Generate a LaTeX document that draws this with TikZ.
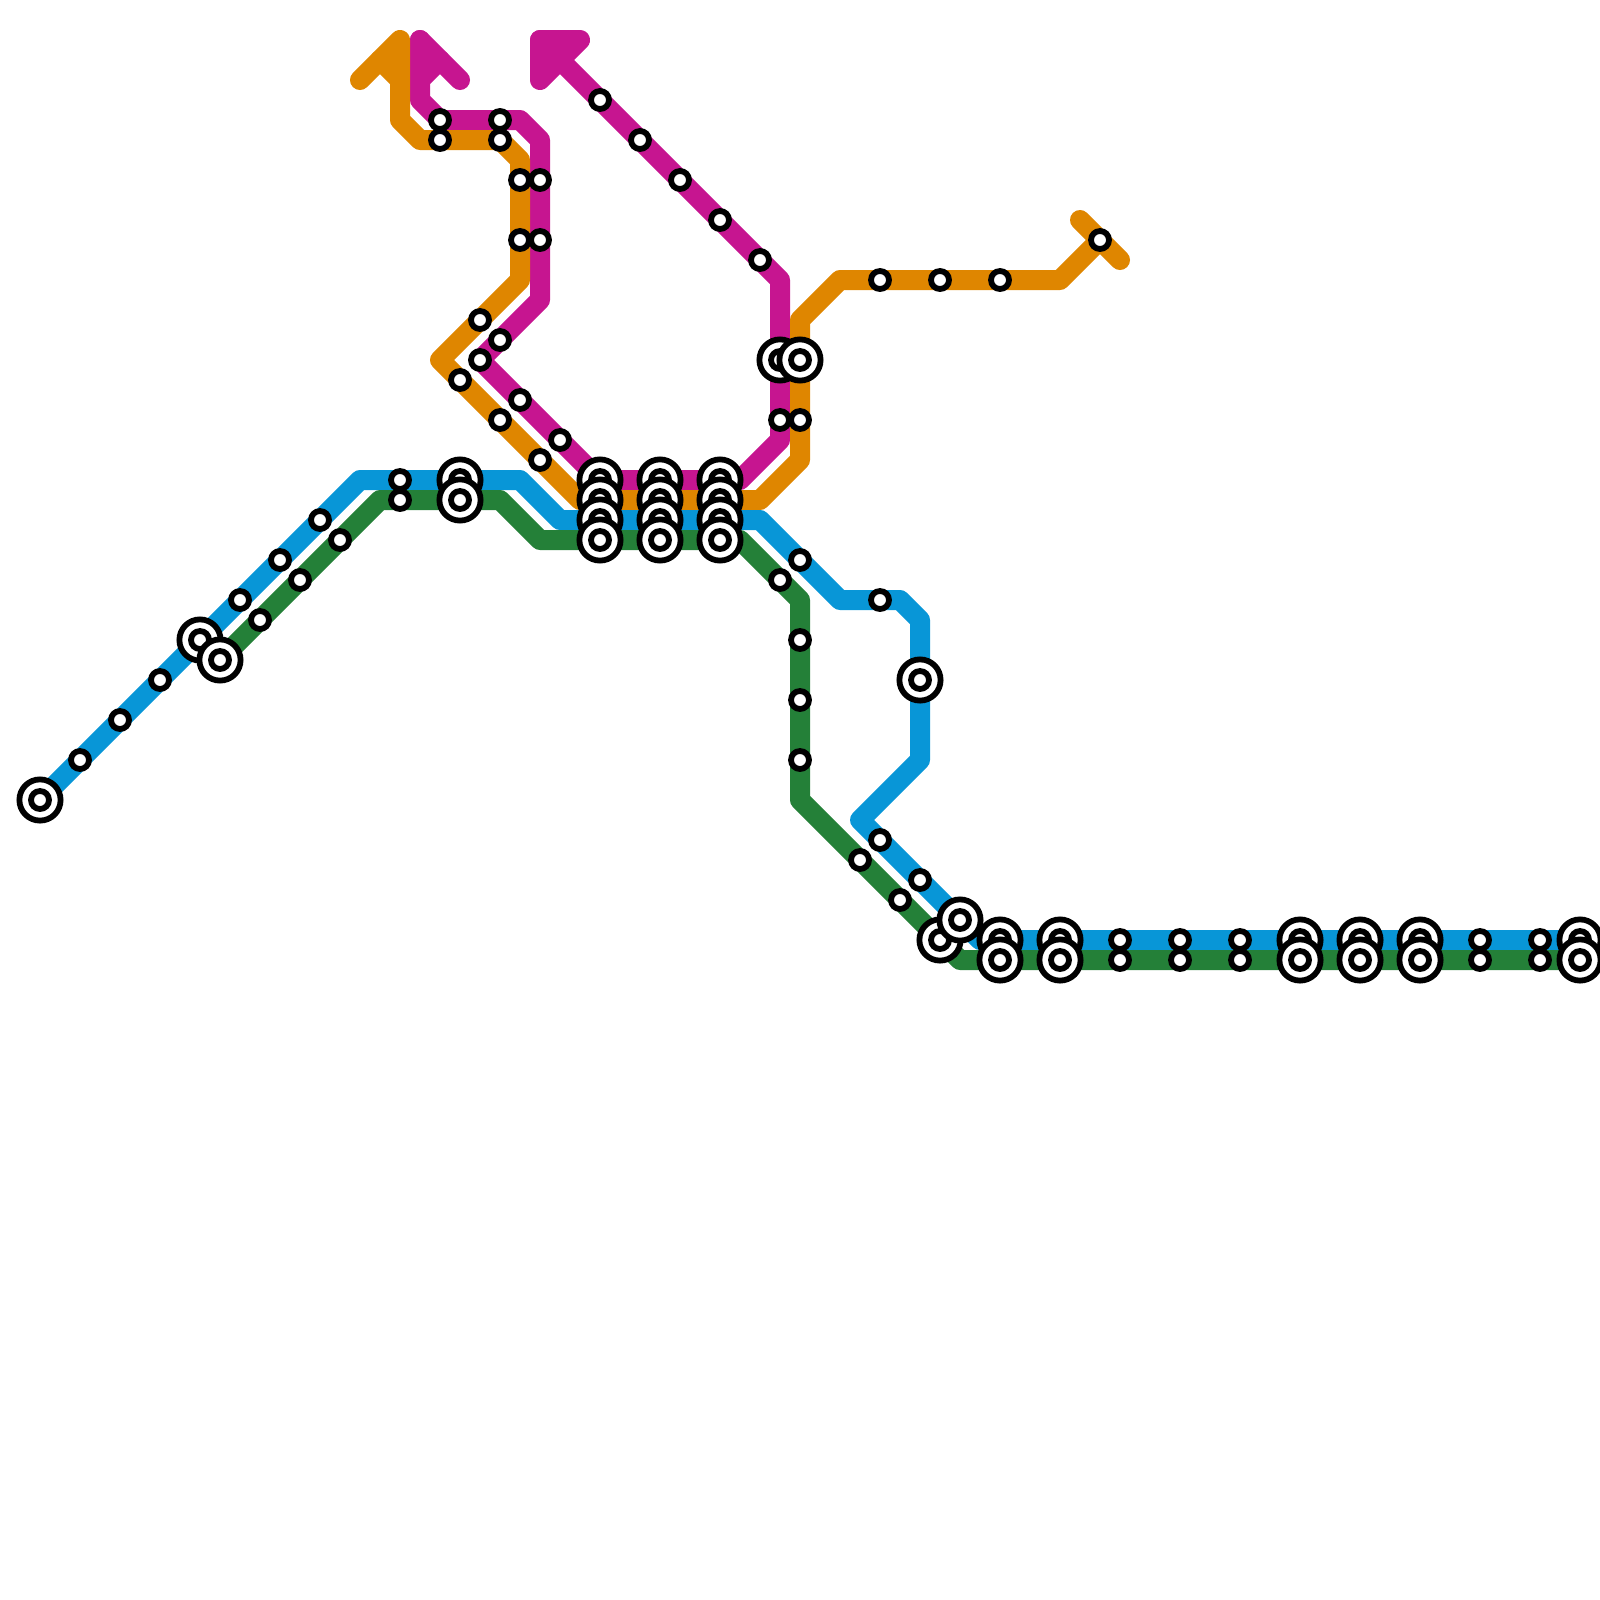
\documentclass[tikz,border=0pt]{standalone}
\usepackage{xcolor}
\usepackage{tikz}
\usetikzlibrary{backgrounds}
\definecolor{lineblue}{HTML}{0896D7}
\definecolor{linegreen}{HTML}{248038}
\definecolor{lineorange}{HTML}{DF8600}
\definecolor{linemagenta}{HTML}{C61590}
\tikzset{
  metroline/.style={line width=1cm, line cap=round, line join=round},
  stopnode/.style={circle, draw=black, fill=white, line width=.29cm, inner sep=0pt, minimum size=.9cm},
  bignode/.style={stopnode, minimum size=2.06cm, label={[stopnode]center:{}}},
}

\begin{document}
\begin{tikzpicture}[x=1cm, y=-1cm]
  \useasboundingbox (0,0) rectangle (80,80);

  % bends, on a grid of 20 px
  \foreach \n/\x/\y in {ba/18/24, bb/26/24, bc/28/26, bd/38/26, be/42/30, bf/45/30, bg/46/31,
      bh/46/38, bi/43/41, bj/49/47,
      ga/19/25, gb/25/25, gc/27/27, gd/37/27, ge/40/30, gf/40/40, gg/48/48,
      oa/53/14, ob/42/14, oc/40/16, od/40/23, oe/38/25, of/29/25, og/22/18, oh/26/14, oi/26/8,
      oj/21/7, ok/20/6, ol/20/4, om/19/3, on/18/4, oo/20/2, op/54/11, oq/56/13,
      mb/39/14, mc/39/22, md/37/24, me/27/15, mf/27/7, mg/26/6, mh/21/5, mi/21/4,
      mj/22/3, mk/21/2, ml/23/4, mm/29/2, mn/27/4, mo/27/2}
    \coordinate (\n) at (\x,\y);

  % stops, left to right so that the overlaps come out right
  \foreach \x/\y/\k in {2/40/bignode, 4/38/stopnode, 6/36/stopnode, 8/34/stopnode, 10/32/bignode,
      11/33/bignode, 12/30/stopnode, 13/31/stopnode, 14/28/stopnode, 15/29/stopnode,
      16/26/stopnode, 17/27/stopnode, 20/24/stopnode, 20/25/stopnode,
      22/6/stopnode, 22/7/stopnode, 23/19/stopnode, 23/24/bignode, 23/25/bignode,
      24/16/stopnode, 24/18/stopnode, 25/6/stopnode, 25/7/stopnode, 25/17/stopnode, 25/21/stopnode,
      26/9/stopnode, 26/12/stopnode, 26/20/stopnode, 27/9/stopnode, 27/12/stopnode, 27/23/stopnode,
      28/22/stopnode, 30/5/stopnode, 30/24/bignode, 30/25/bignode, 30/26/bignode, 30/27/bignode,
      32/7/stopnode, 33/24/bignode, 33/25/bignode, 33/26/bignode, 33/27/bignode,
      34/9/stopnode, 36/11/stopnode, 36/24/bignode, 36/25/bignode, 36/26/bignode, 36/27/bignode,
      38/13/stopnode, 39/18/bignode, 39/21/stopnode, 39/29/stopnode,
      40/18/bignode, 40/21/stopnode, 40/28/stopnode, 40/32/stopnode, 40/35/stopnode, 40/38/stopnode,
      43/43/stopnode, 44/14/stopnode, 44/30/stopnode, 44/42/stopnode, 45/45/stopnode,
      46/34/bignode, 46/44/stopnode, 47/14/stopnode, 47/47/bignode, 48/46/bignode,
      50/14/stopnode, 50/47/bignode, 50/48/bignode, 53/47/bignode, 53/48/bignode,
      55/12/stopnode, 56/47/stopnode, 56/48/stopnode, 59/47/stopnode, 59/48/stopnode,
      62/47/stopnode, 62/48/stopnode, 65/47/bignode, 65/48/bignode, 68/47/bignode, 68/48/bignode,
      71/47/bignode, 71/48/bignode, 74/47/stopnode, 74/48/stopnode, 77/47/stopnode, 77/48/stopnode,
      79/47/bignode, 79/48/bignode}
    \node[\k] (s\x-\y) at (\x,\y) {};

  \begin{scope}[on background layer]
    \draw[metroline, linemagenta] (mo) -- (mb) -- (mc) -- (md) -- (s30-24.center) -- (s24-18.center)
      -- (me) -- (mf) -- (mg) -- (s22-6.center) -- (mh) -- (mi) -- (mj);
    \draw[metroline, linemagenta] (mk) -- (ml);
    \draw[metroline, linemagenta] (mi) -- (mk);
    \draw[metroline, linemagenta] (mm) -- (mn) -- (mo) -- cycle;
    \draw[metroline, lineorange] (op) -- (oq);
    \draw[metroline, lineorange] (s55-12.center) -- (oa) -- (ob) -- (oc) -- (od) -- (oe) -- (of) -- (og)
      -- (oh) -- (oi) -- (s25-7.center) -- (oj) -- (ok) -- (ol) -- (om);
    \draw[metroline, lineorange] (on) -- (oo) -- (ol);
    \draw[metroline, lineblue] (s2-40.center) -- (ba) -- (bb) -- (bc) -- (bd) -- (be) -- (bf) -- (bg)
      -- (bh) -- (bi) -- (s48-46.center) -- (bj) -- (s79-47.center);
    \draw[metroline, linegreen] (s11-33.center) -- (ga) -- (gb) -- (gc) -- (gd) -- (ge) -- (gf)
      -- (gg) -- (s79-48.center);
  \end{scope}
\end{tikzpicture}
\end{document}
